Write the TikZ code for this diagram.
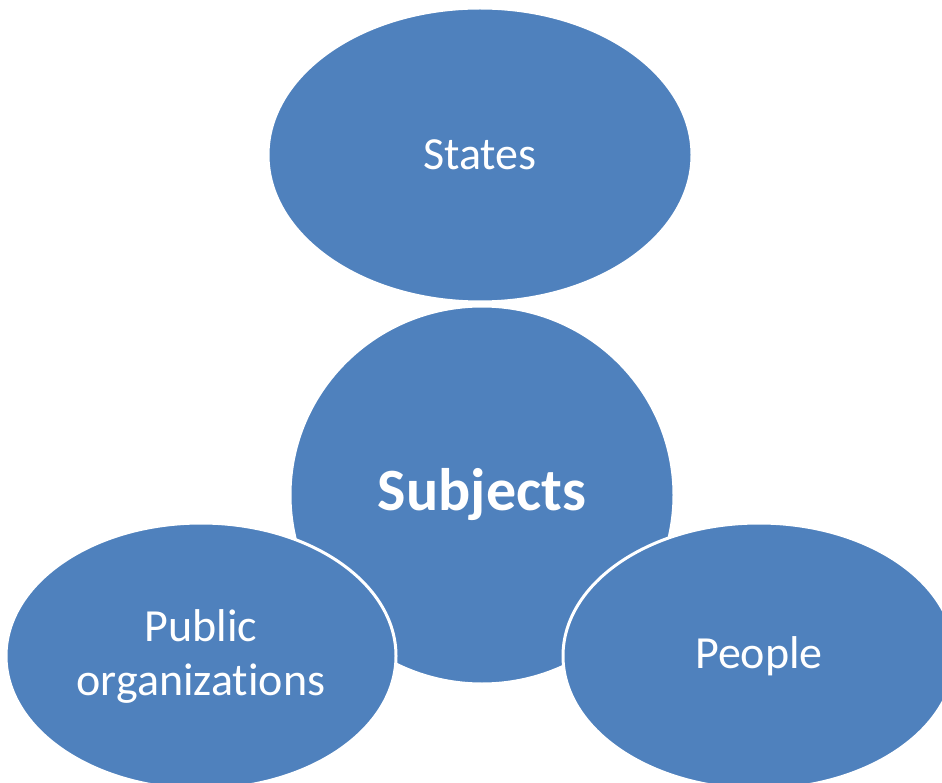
\documentclass[tikz,border=0pt]{standalone}
\usepackage{fontspec}
\setmainfont{Carlito}[RawFeature={-liga}]
\usetikzlibrary{shapes.geometric}
\definecolor{offblue}{HTML}{4F81BD}
\begin{document}
\begin{tikzpicture}[x=1pt,y=-1pt,
  blob/.style={ellipse, fill=offblue, draw=white, line width=3pt, inner sep=0pt,
    text=white, font=\fontsize{46}{54}\selectfont, align=center}]
\useasboundingbox[fill=white] (0,0) rectangle (942,783);
\clip (0,0) rectangle (942,783);
\node[blob, minimum width=424pt, minimum height=294pt] (states) at (480,155) {States};
\node[blob, minimum width=384pt, minimum height=378pt, font=\bfseries\fontsize{60}{70}\selectfont] (subj) at (482,495) {Subjects};
\node[blob, minimum width=390pt, minimum height=266pt] (pub) at (201,656) {Public\\organizations};
\node[blob, minimum width=392pt, minimum height=266pt] (people) at (759,656) {People};
\end{tikzpicture}
\end{document}
